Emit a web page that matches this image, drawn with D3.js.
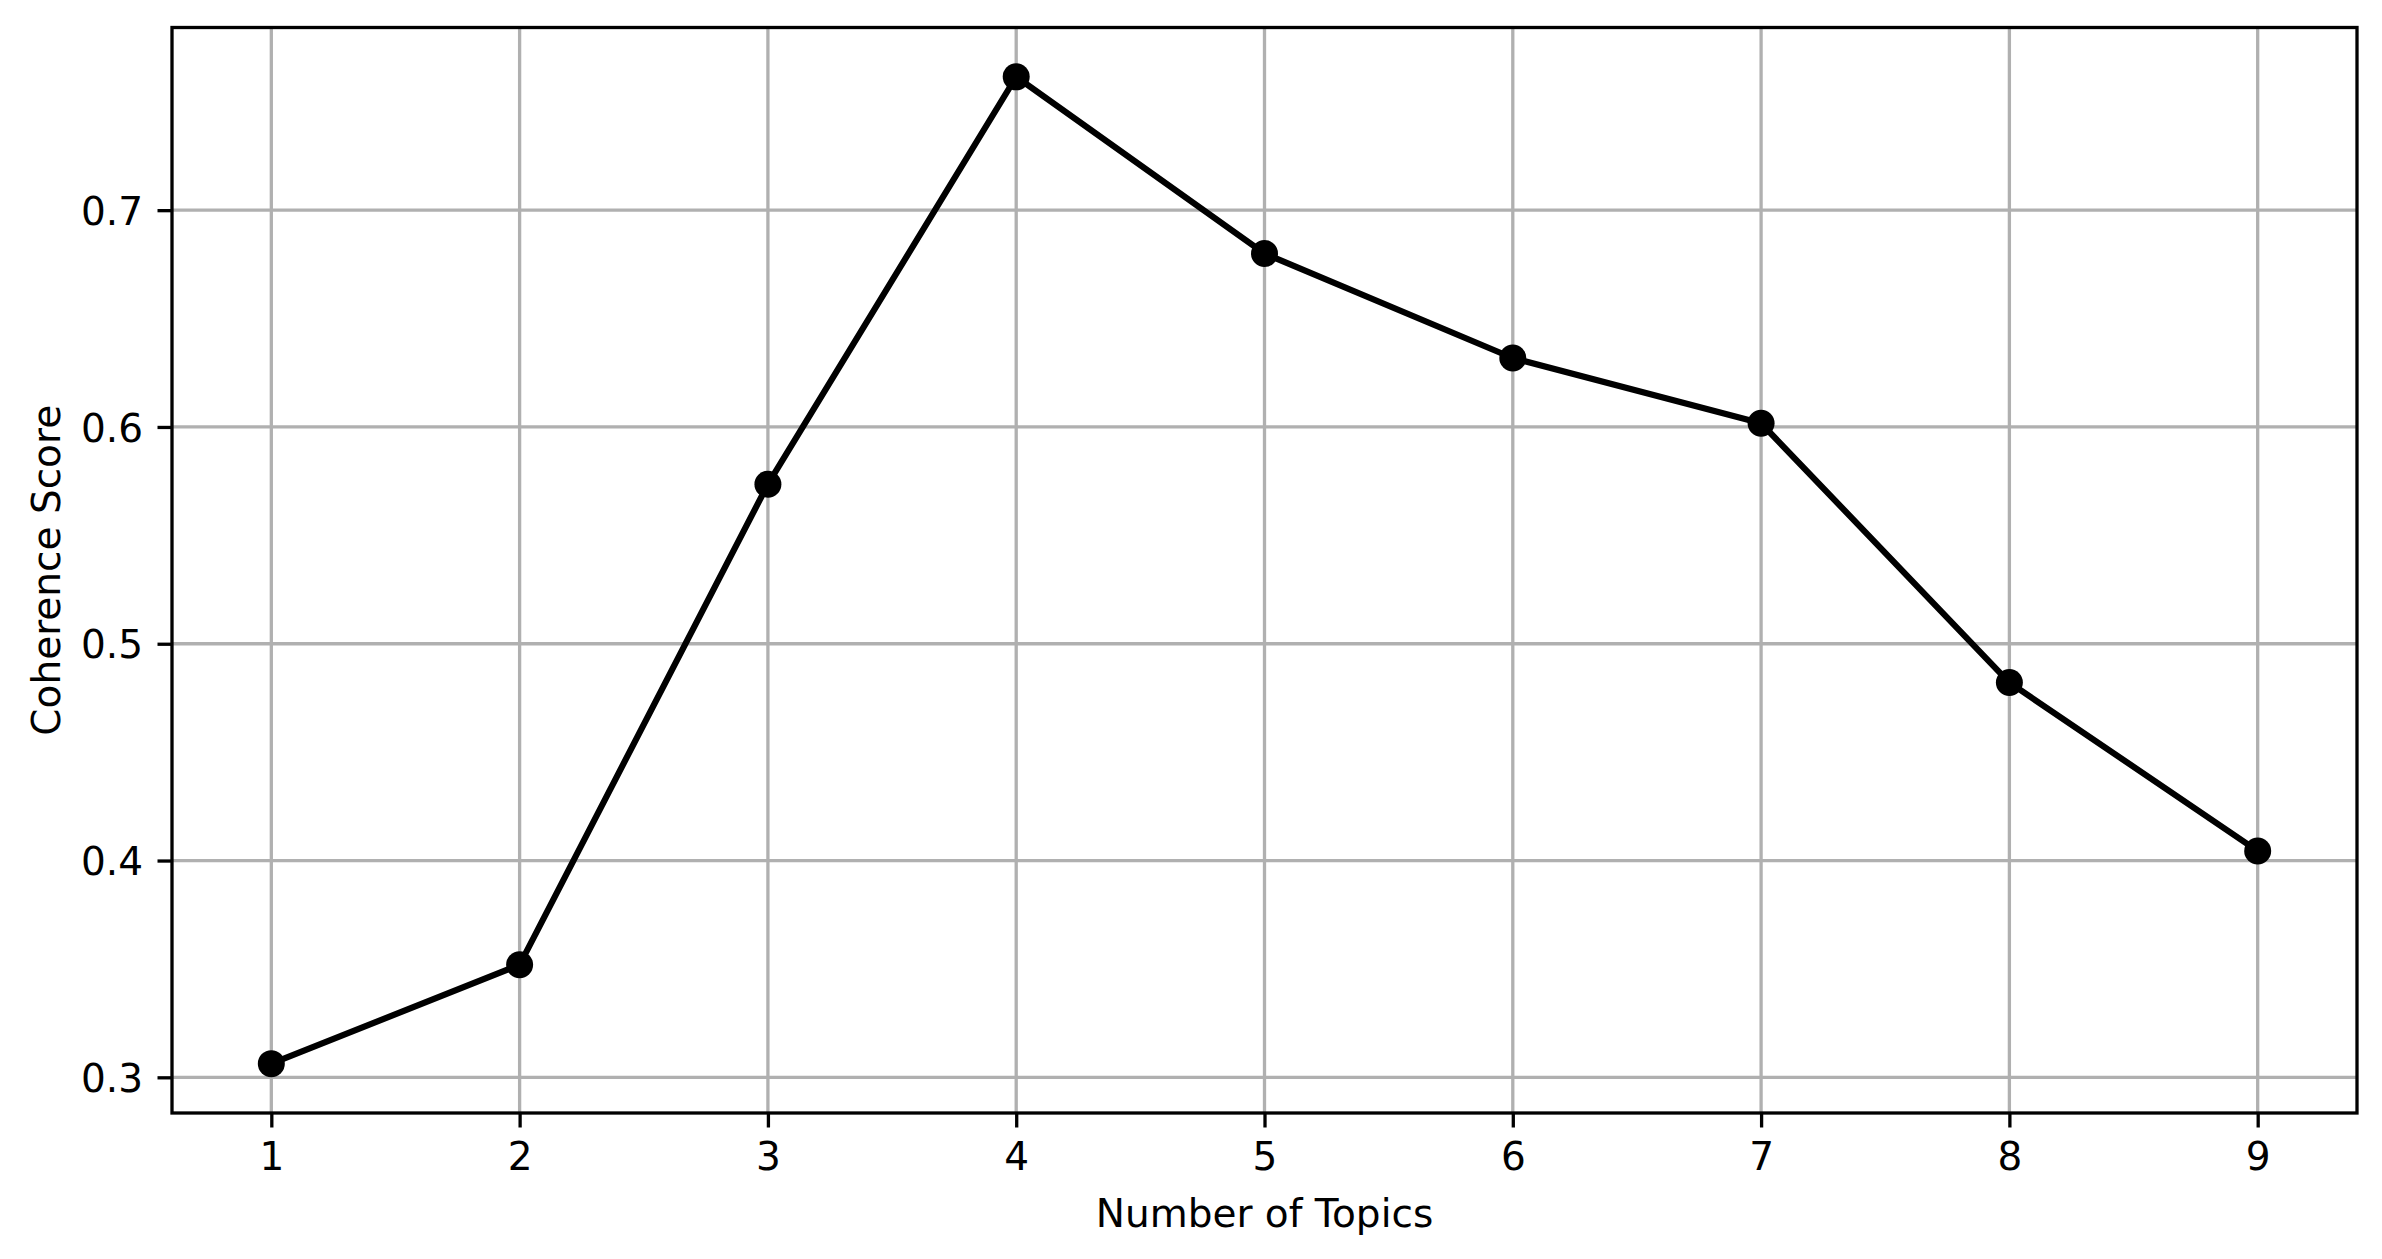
<!DOCTYPE html>
<html>
<head>
<meta charset="utf-8">
<script src="https://cdn.jsdelivr.net/npm/d3@7"></script>
<style>
  html, body { margin: 0; padding: 0; background: #fff; }
  svg { display: block; }
  text { font-family: "DejaVu Sans", sans-serif; fill: #000; }
</style>
</head>
<body>
<svg id="chart" width="2382" height="1259"></svg>
<script>
const topics = [1, 2, 3, 4, 5, 6, 7, 8, 9];
const coherence = [0.3063, 0.3519, 0.5736, 0.7615, 0.6800, 0.6318, 0.6017, 0.4821, 0.4044];
const xTickLabels = ["1", "2", "3", "4", "5", "6", "7", "8", "9"];
const yTickValues = [0.3, 0.4, 0.5, 0.6, 0.7];
const xAxisTitle = "Number of Topics";
const yAxisTitle = "Coherence Score";

const W = 2382, H = 1259;
const L = 172, R = 2357, T = 27.5, B = 1113;
const fontPx = 39;
const tickLen = 14.5, tickPad = 14.5;
const spineW = 3.3;

const svg = d3.select("#chart");

const xMin = d3.min(topics), xMax = d3.max(topics);
const xm = (xMax - xMin) * 0.05;
const x = d3.scaleLinear().domain([xMin - xm, xMax + xm]).range([L, R]);

const yMin = d3.min(coherence), yMax = d3.max(coherence);
const ym = (yMax - yMin) * 0.05;
const y = d3.scaleLinear().domain([yMin - ym, yMax + ym]).range([B, T]);

// grid
const grid = svg.append("g");
grid.selectAll("line.vx").data(topics).enter().append("line")
  .attr("x1", d => x(d)).attr("x2", d => x(d))
  .attr("y1", T).attr("y2", B)
  .attr("stroke", "#b0b0b0").attr("stroke-width", 3.3);
grid.selectAll("line.hy").data(yTickValues).enter().append("line")
  .attr("x1", L).attr("x2", R)
  .attr("y1", d => y(d)).attr("y2", d => y(d))
  .attr("stroke", "#b0b0b0").attr("stroke-width", 3.3);

// line
const line = d3.line().x((d, i) => x(topics[i])).y(d => y(d));
svg.append("path").datum(coherence)
  .attr("d", line)
  .attr("fill", "none").attr("stroke", "#000").attr("stroke-width", 6.2)
  .attr("stroke-linejoin", "round").attr("stroke-linecap", "butt");

svg.selectAll("circle.pt").data(coherence).enter().append("circle")
  .attr("cx", (d, i) => x(topics[i])).attr("cy", d => y(d))
  .attr("r", 13.5).attr("fill", "#000");

// axes via d3
const xAxis = d3.axisBottom(x).tickValues(topics)
  .tickFormat((d, i) => xTickLabels[i]).tickSize(tickLen).tickPadding(tickPad);
const gx = svg.append("g").attr("transform", `translate(0,${B})`).call(xAxis);
gx.select(".domain").remove();
gx.selectAll(".tick line").attr("stroke", "#000").attr("stroke-width", spineW);
gx.selectAll(".tick text").attr("font-size", fontPx).attr("font-family", "DejaVu Sans")
  .attr("dy", null).attr("y", tickLen + tickPad + fontPx * 0.729).attr("fill", "#000");

const yAxis = d3.axisLeft(y).tickValues(yTickValues)
  .tickFormat(d3.format(".1f")).tickSize(tickLen).tickPadding(tickPad);
const gy = svg.append("g").attr("transform", `translate(${L},0)`).call(yAxis);
gy.select(".domain").remove();
gy.selectAll(".tick line").attr("stroke", "#000").attr("stroke-width", spineW);
gy.selectAll(".tick text").attr("font-size", fontPx).attr("font-family", "DejaVu Sans")
  .attr("dy", "0.36em").attr("fill", "#000");

// spines
svg.append("rect").attr("x", L).attr("y", T).attr("width", R - L).attr("height", B - T)
  .attr("fill", "none").attr("stroke", "#000").attr("stroke-width", spineW)
  .attr("stroke-linejoin", "miter");

// axis titles
svg.append("text").attr("x", (L + R) / 2).attr("y", 1227)
  .attr("text-anchor", "middle").attr("font-size", fontPx).text(xAxisTitle);
svg.append("text").attr("transform", `translate(60,${(T + B) / 2}) rotate(-90)`)
  .attr("text-anchor", "middle").attr("font-size", fontPx).text(yAxisTitle);
</script>
</body>
</html>
